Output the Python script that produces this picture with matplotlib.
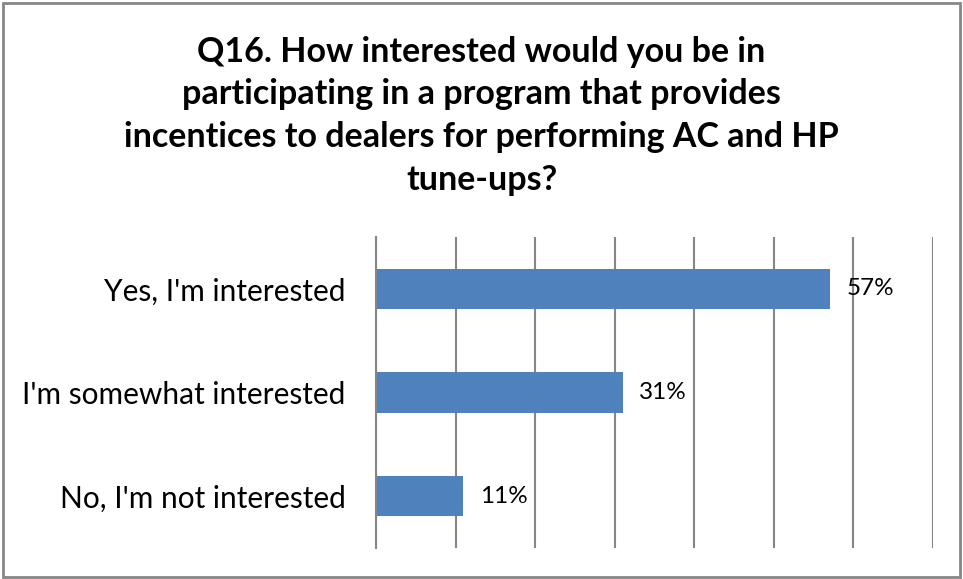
import matplotlib.pyplot as plt
from matplotlib.patches import Rectangle

title = ('Q16. How interested would you be in\n'
         'participating in a program that provides\n'
         'incentices to dealers for performing AC and HP\n'
         'tune-ups?')
answers = ["Yes, I'm interested", "I'm somewhat interested", "No, I'm not interested"]
shares = [57, 31, 11]
value_labels = ['57%', '31%', '11%']

plt.rcParams['font.family'] = ['Lato', 'DejaVu Sans']

fig = plt.figure(figsize=(9.63, 5.79), dpi=100)
ax = fig.add_axes([0.3904, 0.0535, 0.5784, 0.537])

pos = range(len(answers))
ax.barh(pos, shares, height=0.39, color='#4F81BD', zorder=2)
ax.set_xlim(0, 70)
ax.set_ylim(2.5, -0.5)

ax.set_xticks(range(0, 71, 10))
ax.set_xticklabels([])
ax.xaxis.grid(True, color='#868686', linewidth=1.5, zorder=0)
ax.tick_params(axis='x', length=0)
ax.set_yticks(list(pos))
ax.set_yticklabels(answers, fontsize=21.5)
ax.tick_params(axis='y', length=0, pad=22)
for side in ['top', 'right', 'bottom']:
    ax.spines[side].set_visible(False)
ax.spines['left'].set_color('#868686')
ax.spines['left'].set_linewidth(1.5)

for y, v, lab in zip(pos, shares, value_labels):
    ax.annotate(lab, (v, y), xytext=(12, 0), textcoords='offset points',
                ha='left', va='center', fontsize=17.5)

fig.text(0.5, 0.80, title, ha='center', va='center', fontsize=24.5,
         fontweight='bold', linespacing=1.41)

# frame around the whole chart
fig.patches.append(Rectangle((0.003, 0.003), 0.994, 0.992, transform=fig.transFigure,
                             fill=False, edgecolor='#878787', linewidth=2))

fig.savefig('out.png', dpi=100)
